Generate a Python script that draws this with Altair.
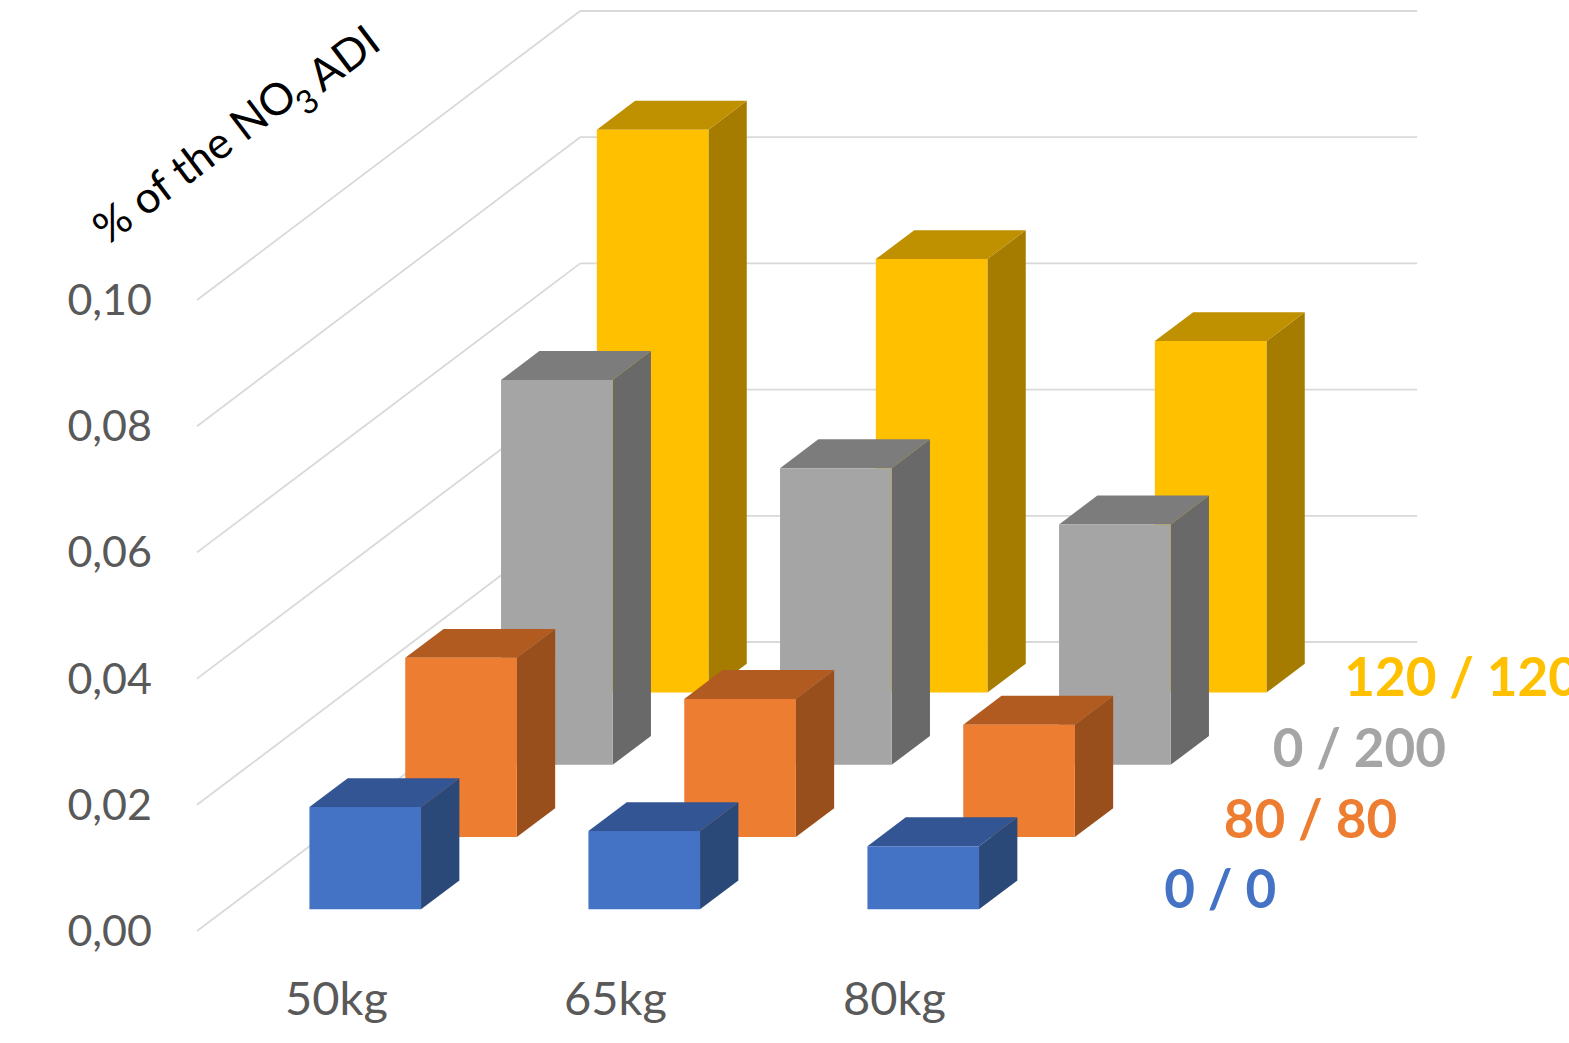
import altair as alt
import pandas as pd

# Values per weight class, in the order of the depth rows (front to back)
weights = ["50kg", "65kg", "80kg"]
scenarios = ["0 / 0", "80 / 80", "0 / 200", "120 / 120"]
share_0_0 = [0.0162, 0.0124, 0.0100]
share_80_80 = [0.0284, 0.0219, 0.0178]
share_0_200 = [0.0610, 0.0470, 0.0381]
share_120_120 = [0.0892, 0.0687, 0.0557]
series_values = [share_0_0, share_80_80, share_0_200, share_120_120]
value_ticks = [0.00, 0.02, 0.04, 0.06, 0.08, 0.10]
tick_labels = ["0,00", "0,02", "0,04", "0,06", "0,08", "0,10"]

# Shades of each bar: front, top, side
front_colors = ["#4472C4", "#ED7D31", "#A5A5A5", "#FFC000"]
top_colors = ["#335593", "#B25B20", "#7C7C7C", "#BF9000"]
side_colors = ["#2A4878", "#984F1C", "#696969", "#A57C00"]
label_colors = ["#4472C4", "#ED7D31", "#A5A5A5", "#FFC000"]
label_columns = [3.295, 3.165, 2.997, 2.91]
label_shifts = [-3, -1, 1, 2]

WIDTH, HEIGHT = 1569, 1043
PX_PER_CATEGORY = 279.0
PX_PER_VALUE = 6310.0
ORIGIN_X, ORIGIN_Y = 197.0, 931.0
DEPTH_RUN = 95.8 / PX_PER_CATEGORY   # sideways shift per depth row, in category units
DEPTH_RISE = 72.25 / PX_PER_VALUE    # upward shift per depth row, in value units
GAP = 0.3                            # free share on each side of a bar
FONT = "Lato"

x_scale = alt.Scale(
    domain=[-ORIGIN_X / PX_PER_CATEGORY, (WIDTH - ORIGIN_X) / PX_PER_CATEGORY],
    range=[0, WIDTH], nice=False, zero=False,
)
y_scale = alt.Scale(
    domain=[(ORIGIN_Y - HEIGHT) / PX_PER_VALUE, ORIGIN_Y / PX_PER_VALUE],
    range=[HEIGHT, 0], nice=False, zero=False,
)


def px(column, depth):
    return column + depth * DEPTH_RUN


def py(value, depth):
    return value + depth * DEPTH_RISE


def xq(field="x"):
    return alt.X(f"{field}:Q", scale=x_scale, axis=None)


def yq(field="y"):
    return alt.Y(f"{field}:Q", scale=y_scale, axis=None)


layers = []

# Gridlines on the side wall and the back wall
n_cols, n_rows = len(weights), len(scenarios)
grid = []
for v in value_ticks:
    grid.append(dict(x=px(0, 0), y=py(v, 0), x2=px(0, n_rows), y2=py(v, n_rows)))
    grid.append(dict(x=px(0, n_rows), y=py(v, n_rows), x2=px(n_cols, n_rows), y2=py(v, n_rows)))
layers.append(
    alt.Chart(pd.DataFrame(grid)).mark_rule(color="#D9D9D9", strokeWidth=1.8).encode(
        x=xq(), y=yq(), x2="x2:Q", y2="y2:Q"
    )
)

# Bars from the back row to the front row so nearer bars cover farther ones
for row in reversed(range(n_rows)):
    fronts, sides, tops = [], [], []
    d0, d1 = row + GAP, row + 1 - GAP
    for col, value in enumerate(series_values[row]):
        c0, c1 = col + GAP, col + 1 - GAP
        fronts.append(dict(x=px(c0, d0), x2=px(c1, d0), y=py(value, d0), y2=py(0, d0)))
        sides += [
            dict(bar=col, x=px(c1, d0), y=py(value, d0), y2=py(0, d0)),
            dict(bar=col, x=px(c1, d1), y=py(value, d1), y2=py(0, d1)),
        ]
        tops += [
            dict(bar=col, x=px(c0, d0), y=py(value, d0), y2=py(value, d0)),
            dict(bar=col, x=px(c0, d1), y=py(value, d1), y2=py(value, d0)),
            dict(bar=col, x=px(c1, d0), y=py(value, d1), y2=py(value, d0)),
            dict(bar=col, x=px(c1, d1), y=py(value, d1), y2=py(value, d1)),
        ]
    layers.append(
        alt.Chart(pd.DataFrame(sides)).mark_area(color=side_colors[row], orient="vertical").encode(
            x=xq(), y=yq(), y2="y2:Q", detail="bar:N"
        )
    )
    layers.append(
        alt.Chart(pd.DataFrame(tops)).mark_area(color=top_colors[row], orient="vertical").encode(
            x=xq(), y=yq(), y2="y2:Q", detail="bar:N"
        )
    )
    layers.append(
        alt.Chart(pd.DataFrame(fronts)).mark_rect(color=front_colors[row]).encode(
            x=xq(), x2="x2:Q", y=yq(), y2="y2:Q"
        )
    )

# Value labels at the front end of the wall lines
layers.append(
    alt.Chart(pd.DataFrame({"x": [px(0, 0)] * len(value_ticks), "y": value_ticks, "t": tick_labels}))
    .mark_text(font=FONT, fontSize=43, color="#595959", align="right", baseline="middle", dx=-45, dy=2)
    .encode(x=xq(), y=yq(), text="t:N")
)

# Weight labels under the floor
layers.append(
    alt.Chart(pd.DataFrame({"x": [px(i + 0.5, 0) for i in range(n_cols)], "y": [0.0] * n_cols, "t": weights}))
    .mark_text(font=FONT, fontSize=47, color="#595959", align="center", baseline="middle", dy=70)
    .encode(x=xq(), y=yq(), text="t:N")
)

# Scenario labels beside each depth row
for row, name in enumerate(scenarios):
    layers.append(
        alt.Chart(pd.DataFrame({"x": [px(label_columns[row], row + 0.5)], "y": [py(0, row + 0.5)], "t": [name]}))
        .mark_text(font=FONT, fontSize=53, fontWeight="bold", color=label_colors[row], align="left", baseline="middle", dy=label_shifts[row])
        .encode(x=xq(), y=yq(), text="t:N")
    )

# Axis caption running along the wall, with the subscript set apart
caption_parts = [
    ("% of the NO", 44, 196, 163),
    ("3", 33, 308, 103),
    ("ADI", 44, 345, 60),
]
for part, size, cx, cy in caption_parts:
    layers.append(
        alt.Chart(pd.DataFrame({"t": [part]}))
        .mark_text(font=FONT, fontSize=size, color="#000000", align="center", baseline="middle", angle=323)
        .encode(x=alt.value(cx), y=alt.value(cy), text="t:N")
    )

chart = (
    alt.layer(*layers)
    .properties(width=WIDTH, height=HEIGHT, padding=0, autosize=alt.AutoSizeParams(type="none"), background="white")
    .configure_view(stroke=None)
)

chart.save("out.html", embed_options={"renderer": "svg", "actions": False})
